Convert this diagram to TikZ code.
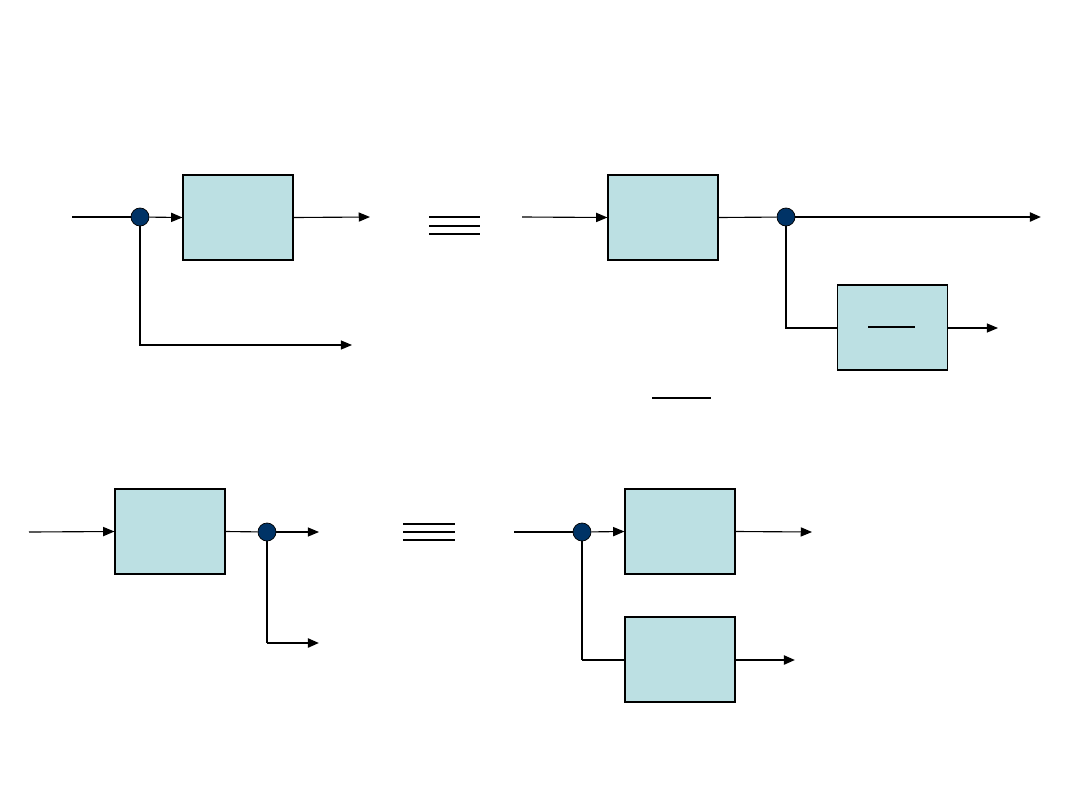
\documentclass[tikz,border=0pt]{standalone}
\usetikzlibrary{arrows.meta}
\definecolor{blockfill}{RGB}{188,224,227}
\definecolor{dotfill}{RGB}{0,51,102}
\begin{document}
\begin{tikzpicture}[x=0.025cm,y=-0.025cm,
  blk/.style={draw=black,line width=0.8pt,fill=blockfill,minimum width=2.75cm,minimum height=2.125cm,inner sep=0pt},
  bdot/.style={circle,draw=black,line width=0.5pt,fill=dotfill,minimum size=0.45cm,inner sep=0pt},
  sig/.style={line width=0.8pt,-{Triangle[length=8pt,width=6.5pt]}},
  ln/.style={line width=0.8pt},
  thick sig/.style={line width=1.6pt,-{Triangle[length=8pt,width=6.5pt]}},
  eqline/.style={line width=1.2pt}]
\useasboundingbox (0,0) rectangle (1080,810);
% ---------- top left ----------
\coordinate (a_in) at (72,217);
\node[blk] (a_blk) at (238,217.5) {};
\coordinate (a_out) at (370,217);
\coordinate (a_corner) at (140,345);
\coordinate (a_out2) at (352,345);
\draw[ln] (a_in) -- (140,217);
\node[bdot] (a_dot) at (140,217) {};
\draw[sig] (a_dot) -- (a_blk.west);
\draw[sig] (a_blk.east) -- (a_out);
\draw[sig] (a_dot) -- (a_corner) -- (a_out2);
% equivalence sign
\draw[eqline] (429,217) -- (480,217);
\draw[eqline] (429,226) -- (480,226);
\draw[eqline] (429,234) -- (480,234);
% ---------- top right ----------
\coordinate (b_in) at (522,217);
\node[blk] (b_blk) at (663,217.5) {};
\node[bdot] (b_dot) at (786,217) {};
\coordinate (b_out) at (1041,217);
\node[blk] (b_blk2) at (892.5,327.5) {};
\coordinate (b_corner) at (786,328);
\coordinate (b_out2) at (998,328);
\draw[sig] (b_in) -- (b_blk.west);
\draw[ln] (b_blk.east) -- (b_dot);
\draw[thick sig] (b_dot) -- (b_out);
\draw[ln] (b_dot) -- (b_corner) -- (b_blk2.west |- b_corner);
\draw[sig] (b_blk2.east |- b_out2) -- (b_out2);
\draw[eqline] (868,327) -- (915,327);
\draw[line width=1pt] (652,398) -- (711,398);
% ---------- bottom left ----------
\coordinate (c_in) at (29,532);
\node[blk] (c_blk) at (170,531.5) {};
\node[bdot] (c_dot) at (267,532) {};
\coordinate (c_out) at (319,532);
\coordinate (c_corner) at (267,643);
\coordinate (c_out2) at (319,643);
\draw[sig] (c_in) -- (c_blk.west);
\draw[ln] (c_blk.east) -- (c_dot);
\draw[sig] (c_dot) -- (c_out);
\draw[ln] (c_dot) -- (c_corner);
\draw[thick sig] (c_corner) -- (c_out2);
% equivalence sign
\draw[eqline] (403,524) -- (455,524);
\draw[eqline] (403,532) -- (455,532);
\draw[eqline] (403,540) -- (455,540);
% ---------- bottom right ----------
\coordinate (d_in) at (514,532);
\node[bdot] (d_dot) at (582,532) {};
\node[blk] (d_blk) at (680,531.5) {};
\coordinate (d_out) at (812,532);
\node[blk] (d_blk2) at (680,659.5) {};
\coordinate (d_corner) at (582,660);
\coordinate (d_out2) at (795,660);
\draw[ln] (d_in) -- (d_dot);
\draw[sig] (d_dot) -- (d_blk.west);
\draw[sig] (d_blk.east) -- (d_out);
\draw[ln] (d_dot) -- (d_corner);
\draw[line width=1.4pt] (d_corner) -- (d_blk2.west |- d_corner);
\draw[thick sig] (d_blk2.east |- d_out2) -- (d_out2);
\end{tikzpicture}
\end{document}
